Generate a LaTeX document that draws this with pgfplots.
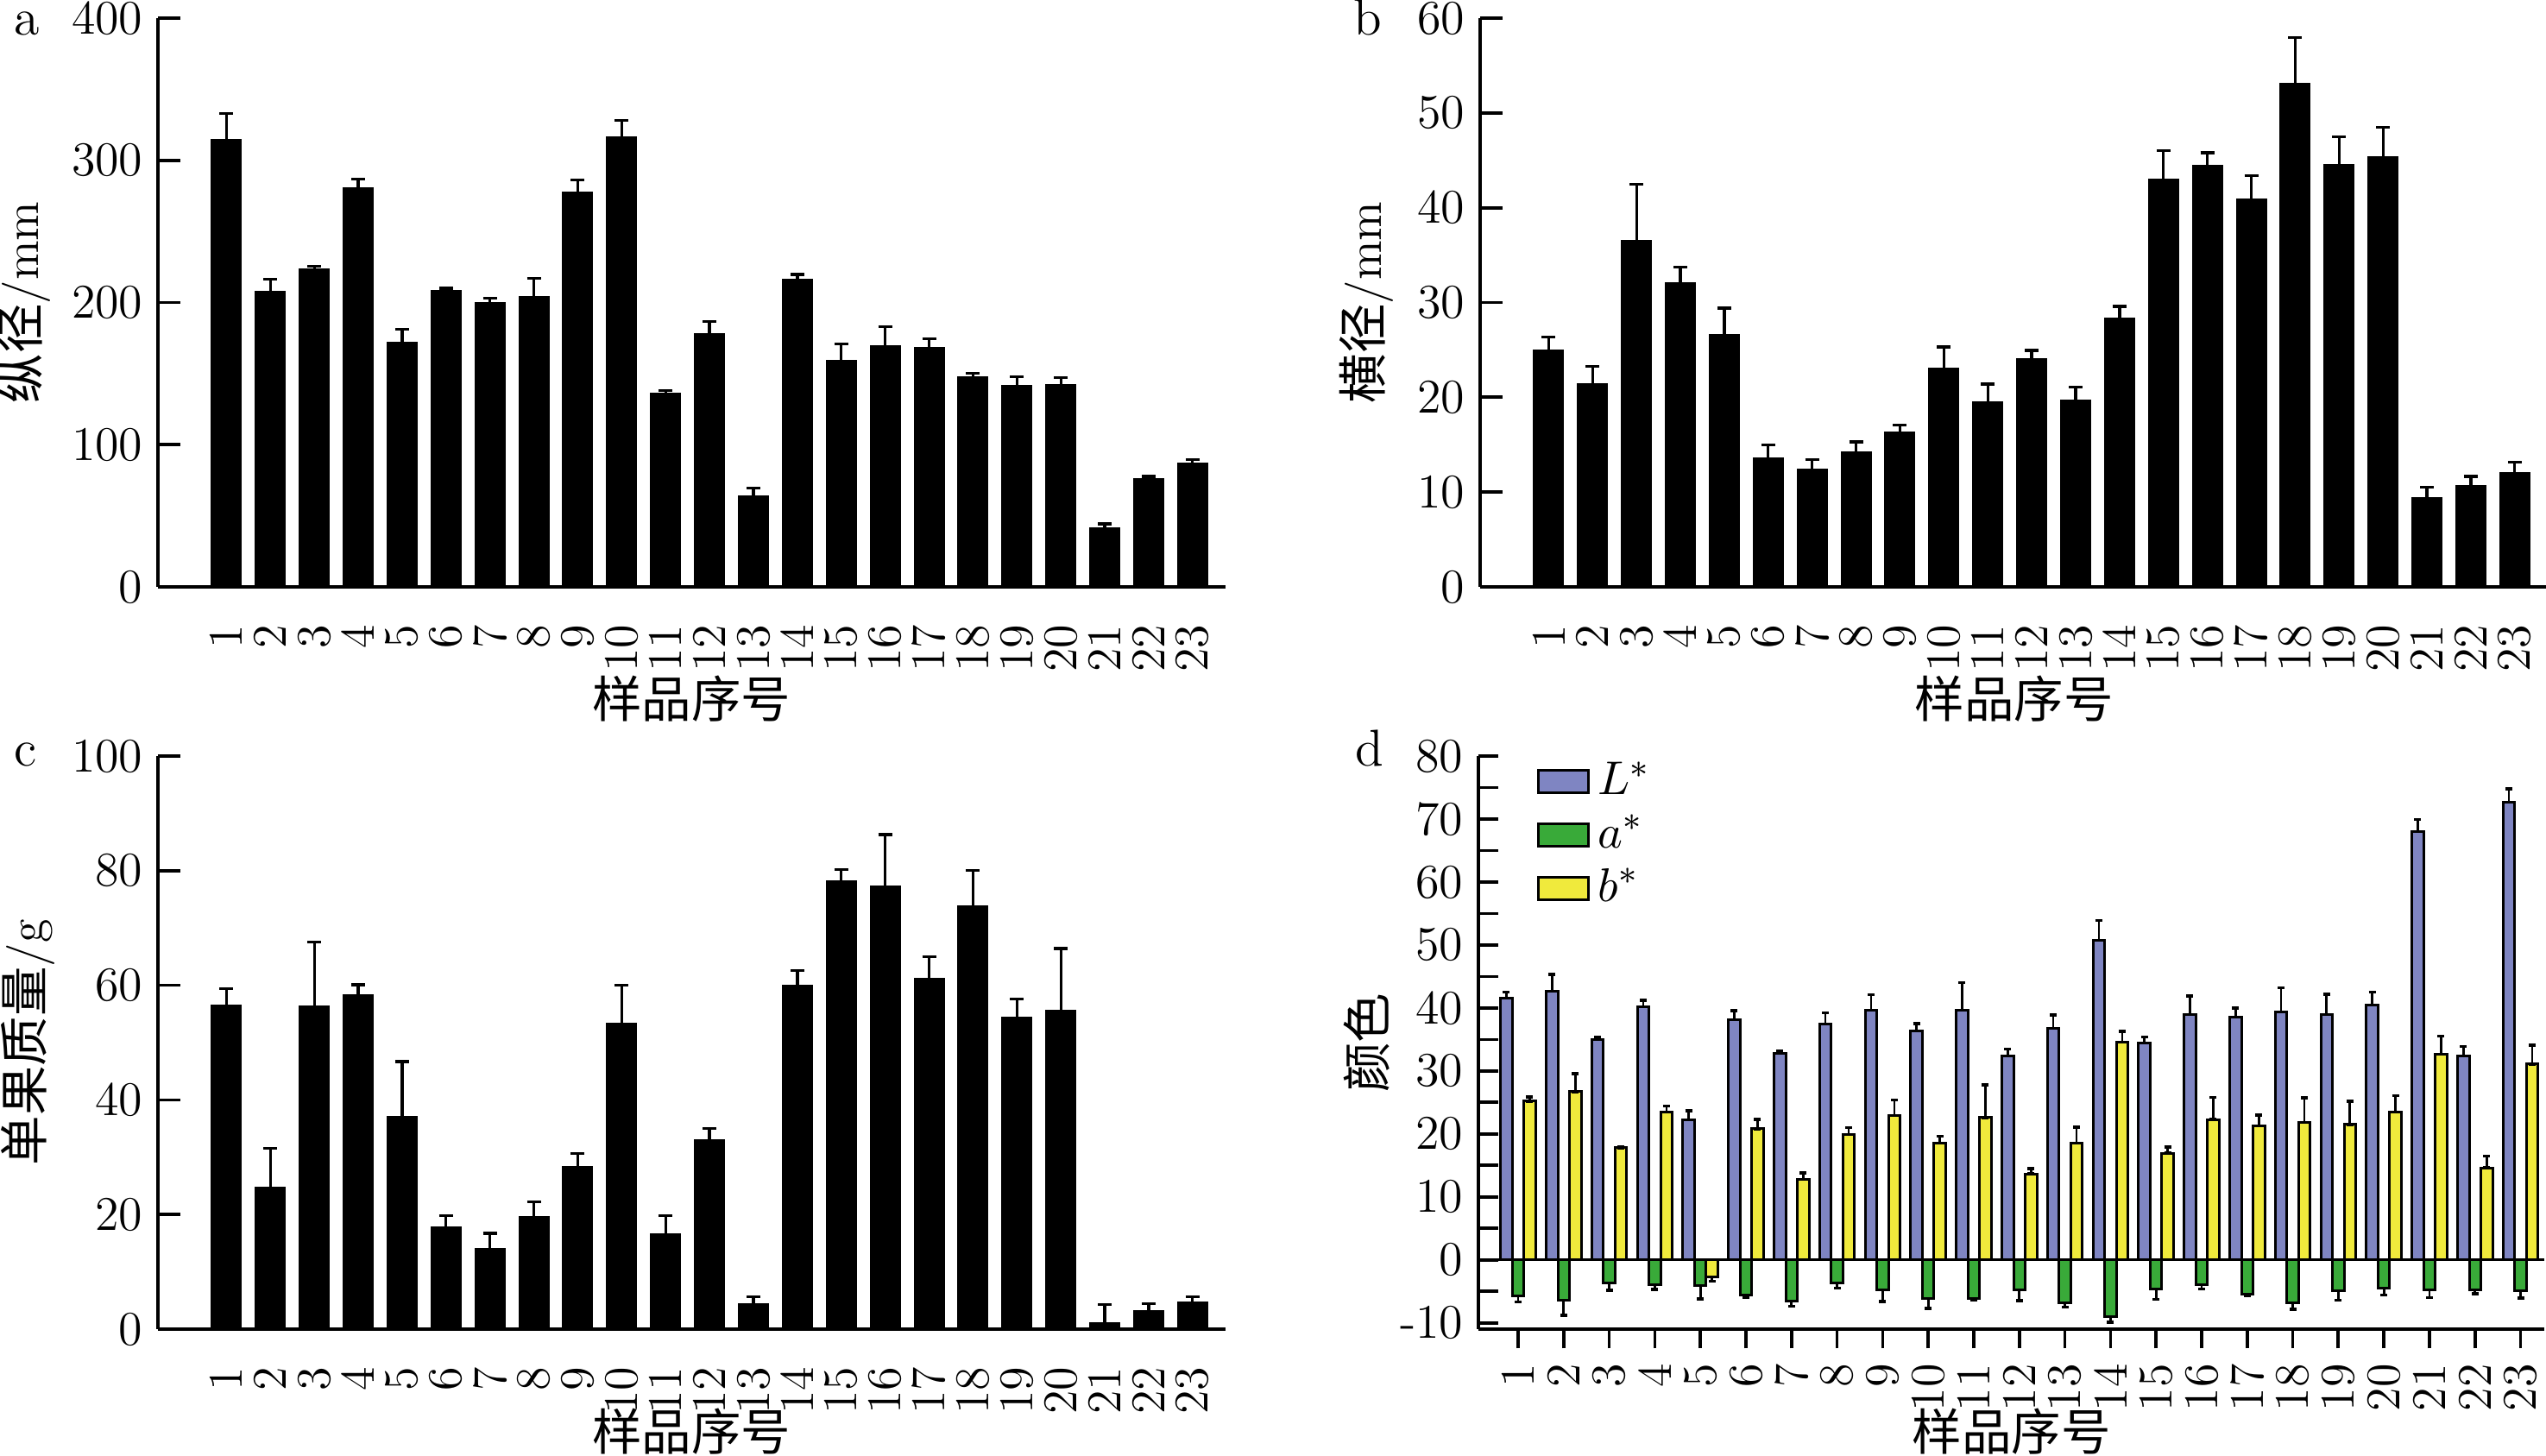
\documentclass[border=0pt]{standalone}
\usepackage{fontspec}
\usepackage{pgfplots}
\pgfplotsset{compat=1.18}
\usepackage{pgfplotstable}
\newfontfamily\cjk{Noto Sans CJK SC}
\newcommand\fs{\fontsize{11.2}{13.4}\selectfont}
\newcommand\cj[1]{{\cjk\fontsize{11.5}{13.4}\selectfont #1}}
\definecolor{Lc}{RGB}{127,133,194}
\definecolor{ac}{RGB}{57,170,57}
\definecolor{bc}{RGB}{240,234,60}

\pgfplotstableread{
x y e
1 314 19
2 207.5 9
3 223 2.5
4 280 7
5 171.5 9.5
6 208 2
7 199.7 3.5
8 204 13
9 277 9
10 316 12
11 135.7 2.3
12 177.7 9
13 63.6 6
14 215.7 4
15 158.7 12
16 169 14
17 168 6.5
18 147.5 2.6
19 141 7
20 142 5
21 41 3.3
22 76 1.7
23 86.6 3
}\tabA

\pgfplotstableread{
x y e
1 24.94 1.4
2 21.35 1.9
3 36.5 6
4 32 1.7
5 26.6 2.8
6 13.55 1.4
7 12.4 1.0
8 14.2 1.1
9 16.25 0.85
10 23.0 2.3
11 19.5 1.9
12 24.05 0.9
13 19.6 1.5
14 28.3 1.3
15 42.95 3.1
16 44.4 1.4
17 40.85 2.55
18 53.07 4.9
19 44.5 3.0
20 45.3 3.2
21 9.33 1.2
22 10.65 1.0
23 12.0 1.15
}\tabB

\pgfplotstableread{
x y e
1 56.4 3
2 24.7 6.9
3 56.3 11.3
4 58.2 1.9
5 37.0 9.7
6 17.75 2.1
7 13.9 2.8
8 19.6 2.65
9 28.35 2.25
10 53.3 6.7
11 16.5 3.3
12 33.0 2.0
13 4.4 1.2
14 59.9 2.7
15 78.15 2.0
16 77.2 9.1
17 61.1 3.9
18 73.7 6.4
19 54.4 3.2
20 55.6 10.8
21 1.0 3.3
22 3.1 1.3
23 4.6 1.1
}\tabC

\pgfplotstableread{
s L Le a ae b bp bm
1 41.6 0.9 -5.7 1.0 25.2 0.7 0
2 42.7 2.6 -6.4 2.4 26.7 2.9 0
3 35.0 0.3 -3.65 1.2 17.8 0.2 0
4 40.2 1.0 -3.9 0.8 23.5 0.9 0
5 22.2 1.5 -4.1 2.1 -2.7 0 0.7
6 38.1 1.5 -5.6 0.4 20.8 1.5 0
7 32.8 0.4 -6.5 0.9 12.8 1.0 0
8 37.4 1.8 -3.7 0.8 19.9 1.1 0
9 39.6 2.5 -4.8 1.8 22.9 2.5 0
10 36.3 1.2 -6.2 1.5 18.55 1.1 0
11 39.7 4.3 -6.2 0.2 22.6 5.2 0
12 32.4 1.1 -4.75 1.7 13.66 0.8 0
13 36.8 2.1 -6.8 0.7 18.55 2.55 0
14 50.7 3.2 -9.0 0.9 34.6 1.7 0
15 34.4 1.0 -4.6 1.7 16.95 0.95 0
16 38.9 3.0 -3.9 0.7 22.3 3.5 0
17 38.6 1.4 -5.4 0.3 21.3 1.7 0
18 39.4 3.8 -6.85 1.0 21.8 3.9 0
19 38.9 3.3 -4.9 1.5 21.5 3.7 0
20 40.4 2.1 -4.5 1.1 23.5 2.6 0
21 68.0 1.9 -4.75 1.25 32.65 2.9 0
22 32.4 1.5 -4.75 0.65 14.6 1.9 0
23 72.7 2.1 -4.85 1.25 31.1 3.0 0
}\tabD

\pgfplotsset{
  base/.style={
    scale only axis, anchor=south west,
    axis x line*=bottom, axis y line*=left,
    axis line style={line width=0.75pt,-},
    tick align=inside,
    tick style={line width=0.75pt, black},
    major tick length=5.2pt,
    xtick={1,...,23},
    tick label style={font=\fs},
    xticklabel style={rotate=90, anchor=east},
    /pgf/number format/assume math mode=true,
    label style={font=\fs},
    ymin=0,
  },
  single/.style={base, ybar, bar width=6.7pt,
    major x tick style={draw=none},
    xmin=-0.56, xmax=23.75, width=247.4pt},
  blk/.style={fill=black, draw=black, line width=0.5pt,
    error bars/y dir=plus, error bars/y explicit,
    error bars/error bar style={line width=0.65pt, black},
    error bars/error mark options={rotate=90, line width=0.65pt, mark size=1.6pt, black}},
  dbar/.style={draw=black, line width=0.6pt,
    legend image code/.code={\draw[##1, line width=0.6pt] (0pt,-2.6pt) rectangle (11.6pt,2.6pt);}},
  derr/.style={error bars/y explicit, error bars/y dir=#1,
    error bars/error bar style={line width=0.55pt, black},
    error bars/error mark options={rotate=90, line width=0.7pt, mark size=0.8pt, black}},
}

\begin{document}
\begin{tikzpicture}

% panel a
\begin{axis}[single, at={(36.6pt,201.4pt)}, height=131.8pt,
  ymax=400, ytick={0,100,...,400},
  ylabel={\cj{纵径}/mm},
  ylabel style={at={(axis description cs:-0.126,0.5)}, anchor=center},
  xlabel={\cj{样品序号}},
  xlabel style={at={(axis description cs:0.5,-0.197)}, anchor=center}]
\addplot[blk] table[x=x,y=y,y error=e] {\tabA};
\end{axis}

% panel b
\begin{axis}[single, at={(343pt,201.4pt)}, height=131.8pt,
  ymax=60, ytick={0,10,...,60},
  ylabel={\cj{横径}/mm},
  ylabel style={at={(axis description cs:-0.1067,0.5)}, anchor=center},
  xlabel={\cj{样品序号}},
  xlabel style={at={(axis description cs:0.5,-0.197)}, anchor=center}]
\addplot[blk] table[x=x,y=y,y error=e] {\tabB};
\end{axis}

% panel c
\begin{axis}[single, at={(36.6pt,29.4pt)}, height=132.8pt,
  ymax=100, ytick={0,20,...,100},
  ylabel={\cj{单果质量}/g},
  ylabel style={at={(axis description cs:-0.122,0.5)}, anchor=center},
  xlabel={\cj{样品序号}},
  xlabel style={at={(axis description cs:0.5,-0.179)}, anchor=center}]
\addplot[blk] table[x=x,y=y,y error=e] {\tabC};
\end{axis}

% panel d
\begin{axis}[base, at={(342.6pt,29.4pt)}, width=247pt, height=132.8pt,
  ybar=0pt, bar width=2.7pt,
  xmin=0.129, xmax=23.52, ymin=-11, ymax=80,
  major tick length=4.5pt, minor tick length=4.5pt,
  ytick={-10,0,...,80}, minor y tick num=1,
  extra y ticks={0}, extra y tick labels={},
  extra y tick style={grid=major, major grid style={black, line width=0.7pt}, major tick length=0pt},
  ylabel={\cj{颜色}},
  ylabel style={at={(axis description cs:-0.105,0.5)}, anchor=center},
  xlabel={\cj{样品序号}},
  xlabel style={at={(axis description cs:0.5,-0.179)}, anchor=center},
  legend style={draw=none, fill=none, inner sep=0pt, font=\fs,
    at={(axis description cs:0.054,1.007)}, anchor=north west,
    row sep=-0.8pt, /tikz/every even column/.append style={column sep=2pt}},
  legend cell align=left]
\addplot[dbar, fill=Lc, derr=plus]
  table[x=s,y=L,y error=Le] {\tabD};
\addplot[dbar, fill=ac, derr=minus]
  table[x=s,y=a,y error=ae] {\tabD};
\addplot[dbar, fill=bc, derr=both]
  table[x=s,y=b,y error plus=bp,y error minus=bm] {\tabD};
\legend{$L^{*}$,$a^{*}$,$b^{*}$}
\end{axis}

\node[font=\fontsize{12}{14}\selectfont, anchor=base] at (6.3pt,329.2pt) {a};
\node[font=\fontsize{12}{14}\selectfont, anchor=base] at (317pt,329.2pt) {b};
\node[font=\fontsize{12}{14}\selectfont, anchor=base] at (6pt,159.8pt) {c};
\node[font=\fontsize{12}{14}\selectfont, anchor=base] at (317.4pt,159.8pt) {d};

\pgfresetboundingbox
\useasboundingbox (0,0) rectangle (590pt,337.4pt);
\end{tikzpicture}
\end{document}
